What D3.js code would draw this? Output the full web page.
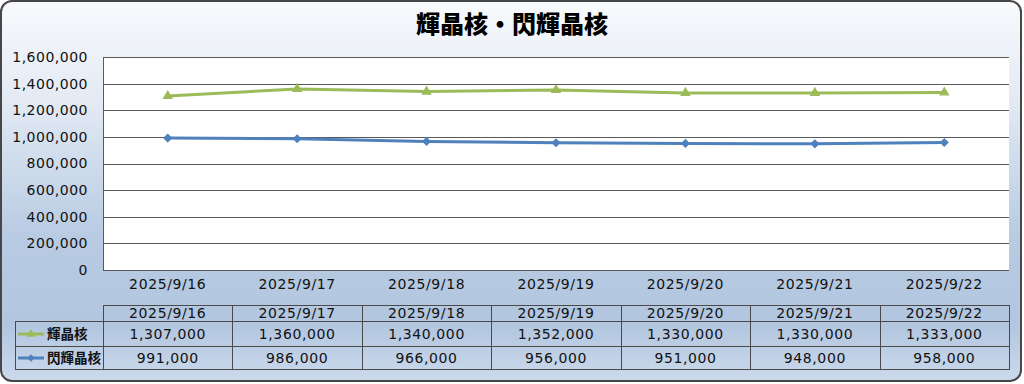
<!DOCTYPE html>
<html><head><meta charset="utf-8">
<script src="https://cdn.jsdelivr.net/npm/d3@7"></script>
<style>
html,body{margin:0;padding:0;background:#fff;}
svg{display:block;}
</style></head>
<body>
<script>
const categories = ["2025/9/16","2025/9/17","2025/9/18","2025/9/19","2025/9/20","2025/9/21","2025/9/22"];
const seriesNames = ["輝晶核","閃輝晶核"];
const kikishoukaku = [1307000,1360000,1340000,1352000,1330000,1330000,1333000];
const senkishoukaku = [991000,986000,966000,956000,951000,948000,958000];
const yTicks = [0,200000,400000,600000,800000,1000000,1200000,1400000,1600000];
const titleText = "輝晶核・閃輝晶核";
const colors = ["#9bbb59","#4f81bd"];

(function(){
const W=1024,H=384;
const svg=d3.select("body").append("svg").attr("width",W).attr("height",H);
const defs=svg.append("defs");
const g=defs.append("linearGradient").attr("id","bg").attr("x1",0).attr("y1",0).attr("x2",0).attr("y2",1);
[[0,"#f8fafd"],[0.25,"#e4ebf4"],[0.62,"#b8cbe3"],[0.85,"#b2c6df"],[1,"#cbd9ec"]].forEach(s=>g.append("stop").attr("offset",s[0]).attr("stop-color",s[1]));

svg.append("rect").attr("x",1).attr("y",1).attr("width",1020).attr("height",380).attr("rx",11).attr("ry",11)
  .attr("fill","url(#bg)").attr("stroke","#474747").attr("stroke-width",2);

svg.append("text").attr("x",512).attr("y",33).attr("text-anchor","middle")
  .attr("font-family","'Noto Sans CJK JP'").attr("font-weight",900).attr("font-size",24).attr("fill","#000")
  .text(titleText);

const pL=103,pR=1009,pT=57,pB=270;
const x=d3.scaleBand().domain(categories).range([pL,pR]);
const y=d3.scaleLinear().domain([0,1600000]).range([pB,pT]);
const font="'DejaVu Sans'";

svg.append("rect").attr("x",pL).attr("y",pT).attr("width",pR-pL).attr("height",pB-pT).attr("fill","#fff");

svg.append("g").selectAll("line").data(yTicks).join("line")
  .attr("x1",pL).attr("x2",pR).attr("y1",d=>Math.round(y(d))+0.5).attr("y2",d=>Math.round(y(d))+0.5)
  .attr("stroke","#5a5a5a").attr("stroke-width",1);
svg.append("line").attr("x1",pL+0.5).attr("x2",pL+0.5).attr("y1",pT).attr("y2",pB+1).attr("stroke","#5a5a5a");

const yAxis=d3.axisLeft(y).tickValues(yTicks).tickSize(0).tickPadding(15).tickFormat(d3.format(","));
const ya=svg.append("g").attr("transform",`translate(${pL},0)`).call(yAxis);
ya.select(".domain").remove();
ya.selectAll("text").attr("font-family",font).attr("font-size",14).attr("letter-spacing","0.5px").attr("fill","#111");

const xAxis=d3.axisBottom(x).tickSize(0).tickPadding(9);
const xa=svg.append("g").attr("transform",`translate(0,${pB})`).call(xAxis);
xa.select(".domain").remove();
xa.selectAll("text").attr("font-family",font).attr("font-size",14).attr("letter-spacing","0.6px").attr("fill","#111");

const tri=d3.symbol().type(d3.symbolTriangle);
const dia=d3.symbol().type(d3.symbolSquare);
function marker(k,s){ return k===0?tri.size(s[0])():dia.size(s[1])(); }

const series=[kikishoukaku,senkishoukaku];
const line=d3.line().x((d,i)=>x(categories[i])+x.bandwidth()/2).y(d=>y(d));
series.forEach((s,k)=>{
  svg.append("path").datum(s).attr("d",line).attr("fill","none").attr("stroke",colors[k]).attr("stroke-width",3).attr("stroke-linejoin","round");
  svg.append("g").selectAll("path").data(s).join("path")
    .attr("transform",(d,i)=>`translate(${x(categories[i])+x.bandwidth()/2},${y(d)})${k===1?" rotate(45)":""}`)
    .attr("d",marker(k,[48,42])).attr("fill",colors[k]);
});

const tTop=305,r1=321,r2=346,r3=369,tLeft=15;
const tl=svg.append("g").attr("stroke","#4a4a4a").attr("stroke-width",1).attr("fill","none");
tl.append("rect").attr("x",pL+0.5).attr("y",tTop+0.5).attr("width",pR-pL).attr("height",r3-tTop);
tl.append("rect").attr("x",tLeft+0.5).attr("y",r1+0.5).attr("width",pR-tLeft).attr("height",r3-r1);
tl.append("line").attr("x1",tLeft).attr("x2",pR).attr("y1",r2+0.5).attr("y2",r2+0.5);
categories.forEach((c,i)=>{ if(i>0){ const xx=Math.round(x(c))+0.5; tl.append("line").attr("x1",xx).attr("x2",xx).attr("y1",tTop).attr("y2",r3);} });

const tt=svg.append("g").attr("font-family",font).attr("font-size",14).attr("letter-spacing","0.6px").attr("fill","#111").attr("text-anchor","middle");
categories.forEach((c,i)=>{
  const cx=x(c)+x.bandwidth()/2;
  tt.append("text").attr("x",cx).attr("y",r1-3).text(c);
  tt.append("text").attr("x",cx).attr("y",r1+18).text(d3.format(",")(kikishoukaku[i]));
  tt.append("text").attr("x",cx).attr("y",r2+17).text(d3.format(",")(senkishoukaku[i]));
});
[[r1,r2],[r2,r3]].forEach((r,k)=>{
  const cy=(r[0]+r[1])/2+0.5;
  svg.append("line").attr("x1",18).attr("x2",44).attr("y1",cy).attr("y2",cy).attr("stroke",colors[k]).attr("stroke-width",3);
  svg.append("path").attr("transform",`translate(31,${cy})${k===1?" rotate(45)":""}`).attr("d",marker(k,[36,28])).attr("fill",colors[k]);
  svg.append("text").attr("x",47).attr("y",cy+5).attr("font-family","'Noto Sans CJK JP'").attr("font-weight",700).attr("font-size",13.5).attr("fill","#111").text(seriesNames[k]);
});
})();
</script>
</body></html>
